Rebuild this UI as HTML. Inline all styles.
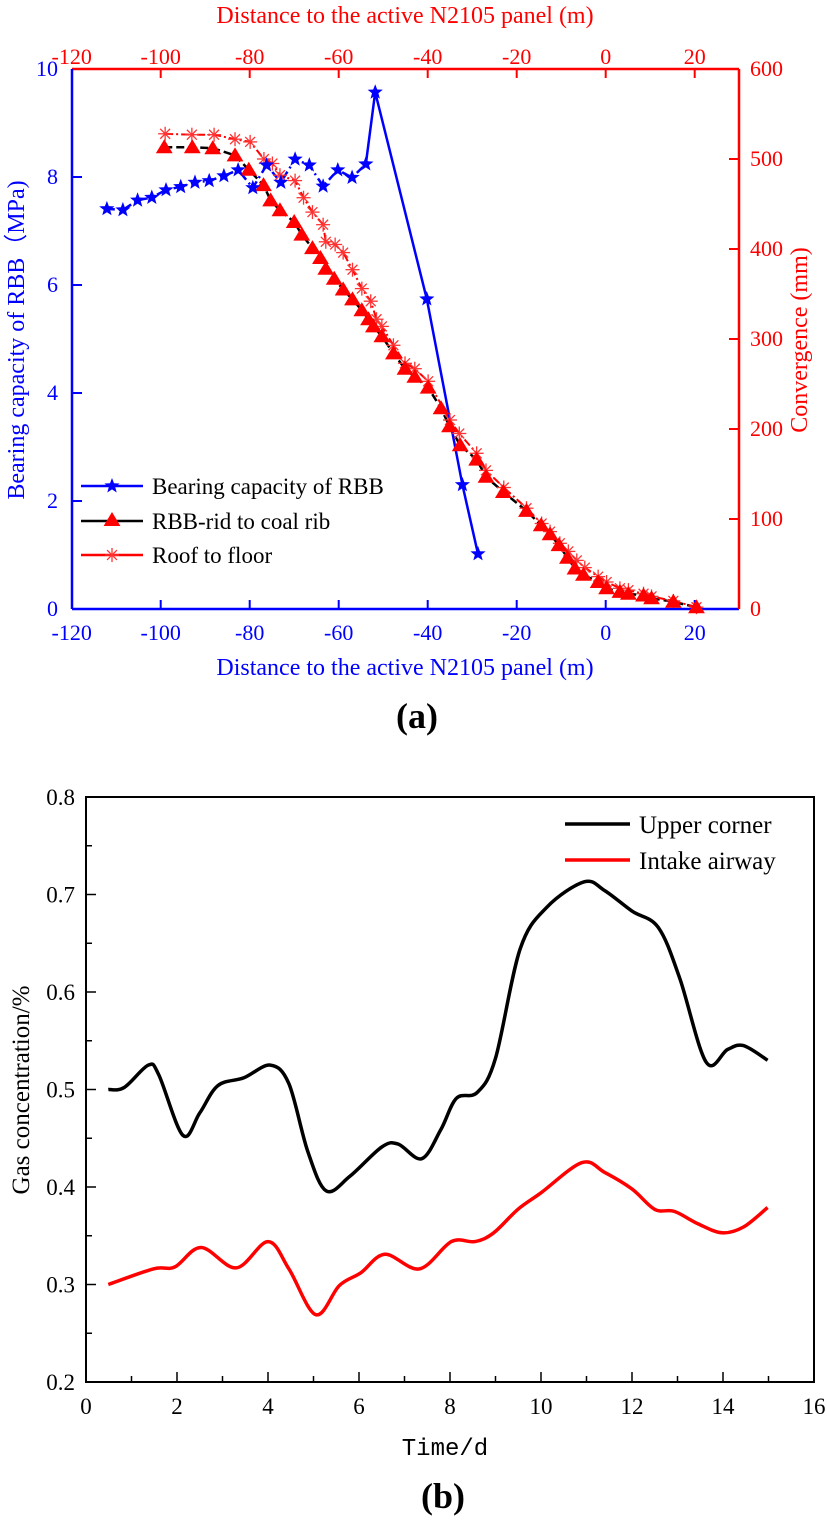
<!DOCTYPE html>
<html><head><meta charset="utf-8"><style>
body{margin:0;background:#fff;}
svg{display:block;font-family:"Liberation Serif",serif;}
</style></head><body>
<svg id="s" width="827" height="1526" viewBox="0 0 827 1526">
<g id="ga"></g>
<g id="gb"></g>
</svg>
<script>
// ---- chart (a) data ----
const rbbX=[-112.1,-108.5,-105.2,-102.0,-98.8,-95.5,-92.3,-89.1,-85.8,-82.6,-79.3,-76.2,-73.0,-69.8,-66.6,-63.5,-60.2,-57.0,-53.9,-51.8,-40.2,-32.2,-28.7];
const rbbY=[7.41,7.39,7.57,7.62,7.76,7.82,7.90,7.93,8.02,8.13,7.80,8.22,7.90,8.33,8.22,7.83,8.13,7.99,8.24,9.57,5.74,2.30,1.02];
const ribX=[-99.2,-92.9,-88.3,-83.3,-80.2,-76.9,-75.3,-73.2,-70.0,-68.3,-65.9,-64.1,-62.9,-61.0,-59.0,-56.9,-54.8,-53.3,-52.2,-50.3,-47.7,-45.1,-42.9,-39.9,-37.0,-35.1,-32.7,-29.0,-26.9,-23.0,-17.8,-14.5,-12.5,-10.5,-8.6,-6.9,-5.0,-1.7,0.2,3.2,5.1,8.5,10.3,15.2,20.4];
const ribY=[513,513,512,504,488,471,454,443,430,416,401,390,378,367,355,344,332,322,314,303,284,267,258,246,223,203,182,166,147,130,109,93,83,71,57,45,38,30,23,19,17,15,12,8,2];
const rfX=[-99.0,-93.0,-88.0,-83.3,-79.9,-76.8,-74.9,-73.2,-69.8,-67.9,-65.9,-63.5,-62.9,-60.8,-59.0,-56.9,-54.8,-52.8,-51.5,-50.3,-47.7,-45.1,-42.9,-39.9,-35.0,-32.9,-29.0,-26.9,-22.9,-17.8,-14.4,-12.5,-10.3,-8.4,-6.5,-4.7,-1.7,0.2,3.2,5.1,8.5,10.3,15.2,20.4];
const rfY=[528,527,527,522,519,500,495,482,476,457,441,427,408,405,396,377,356,342,322,314,293,273,267,253,210,195,173,154,135,112,95,86,73,64,54,46,36,30,23,21,17,14,9,2];
const aXTicks=[-120,-100,-80,-60,-40,-20,0,20];
const aYTicks=[0,2,4,6,8,10];
const aY2Ticks=[0,100,200,300,400,500,600];
// ---- chart (b) data ----
const upX=[0.49,0.84,1.37,1.6,2.13,2.5,2.9,3.47,4.05,4.46,4.87,5.28,5.8,6.5,6.86,7.38,7.8,8.14,8.6,9.0,9.54,10.13,10.95,11.4,12.0,12.58,13.05,13.63,14.1,14.45,14.98];
const upY=[0.500,0.502,0.525,0.515,0.453,0.476,0.504,0.512,0.525,0.506,0.437,0.396,0.411,0.441,0.444,0.429,0.459,0.491,0.497,0.532,0.644,0.687,0.713,0.704,0.683,0.666,0.614,0.528,0.541,0.545,0.530];
const inX=[0.49,1.48,1.95,2.53,3.3,4.0,4.46,5.05,5.57,6.04,6.57,7.33,8.03,8.55,8.96,9.49,10.0,10.9,11.4,12.0,12.5,12.93,13.46,13.98,14.45,14.98];
const inY=[0.300,0.316,0.318,0.338,0.317,0.344,0.316,0.269,0.299,0.312,0.331,0.316,0.344,0.344,0.353,0.377,0.394,0.425,0.415,0.398,0.377,0.375,0.362,0.353,0.359,0.379];
const bXTicks=[0,2,4,6,8,10,12,14,16];
const bYTicks=[0.2,0.3,0.4,0.5,0.6,0.7,0.8];

const NS="http://www.w3.org/2000/svg";
function mk(p,t,a,txt){const e=document.createElementNS(NS,t);for(const k in a)e.setAttribute(k,a[k]);if(txt!==undefined)e.textContent=txt;p.appendChild(e);return e;}

// ===== chart a =====
const ga=document.getElementById('ga');
const aL=72,aR=739,aT=69,aB=609;
const ax=v=>605.7+v*4.45, ay=v=>aB-(v/10)*(aB-aT), ay2=v=>aB-(v/600)*(aB-aT);
let e;
e=mk(ga,'line',{x1:aL,y1:aB,x2:aR,y2:aB,stroke:'#00f','stroke-width':2.5});

e=mk(ga,'line',{x1:aL,y1:aT,x2:aR,y2:aT,stroke:'#f00','stroke-width':2.5});

e=mk(ga,'line',{x1:aL,y1:aT,x2:aL,y2:aB,stroke:'#00f','stroke-width':2.5});

e=mk(ga,'line',{x1:aR,y1:aT,x2:aR,y2:aB,stroke:'#f00','stroke-width':2.5});

aXTicks.forEach(v=>{const x=ax(v);
 if(v>-120){mk(ga,'line',{x1:x,y1:aB,x2:x,y2:aB-9,stroke:'#00f','stroke-width':2});mk(ga,'line',{x1:x,y1:aT,x2:x,y2:aT+9,stroke:'#f00','stroke-width':2});}
 e=mk(ga,'text',{x:x,y:640,'text-anchor':'middle','font-size':22,fill:'#00f'},String(v));
 
 e=mk(ga,'text',{x:x,y:64,'text-anchor':'middle','font-size':22,fill:'#f00'},String(v));
 });
aYTicks.forEach(v=>{const y=ay(v);
 if(v>0&&v<10)mk(ga,'line',{x1:aL,y1:y,x2:aL+10,y2:y,stroke:'#00f','stroke-width':2});
 e=mk(ga,'text',{x:58,y:y+7,'text-anchor':'end','font-size':22,fill:'#00f'},String(v));
 });
aY2Ticks.forEach(v=>{const y=ay2(v);
 if(v>0&&v<600)mk(ga,'line',{x1:aR,y1:y,x2:aR-10,y2:y,stroke:'#f00','stroke-width':2});
 e=mk(ga,'text',{x:750,y:y+7,'text-anchor':'start','font-size':22,fill:'#f00'},String(v));
 });
e=mk(ga,'text',{x:405,y:675,'text-anchor':'middle','font-size':24,fill:'#00f'},'Distance to the active N2105 panel (m)');

e=mk(ga,'text',{x:405,y:23,'text-anchor':'middle','font-size':24,fill:'#f00'},'Distance to the active N2105 panel (m)');

e=mk(ga,'text',{x:0,y:0,'text-anchor':'middle','font-size':24,fill:'#00f',transform:'translate(24,340) rotate(-90)'},'Bearing capacity of RBB（MPa)');

e=mk(ga,'text',{x:0,y:0,'text-anchor':'middle','font-size':24,fill:'#f00',transform:'translate(807,340) rotate(-90)'},'Convergence (mm)');


function star(g,cx,cy,r,fill){let p=[];for(let i=0;i<10;i++){const a=-Math.PI/2+i*Math.PI/5;const rr=i%2?r*0.42:r;p.push((cx+rr*Math.cos(a)).toFixed(1)+','+(cy+rr*Math.sin(a)).toFixed(1));}return mk(g,'polygon',{points:p.join(' '),fill:fill});}
function tri(g,cx,cy,r){return mk(g,'polygon',{points:`${cx},${cy-r} ${cx-r*1.05},${cy+r*0.75} ${cx+r*1.05},${cy+r*0.75}`,fill:'#f00'});}
function aster(g,cx,cy,r){const gg=mk(g,'g',{stroke:'#f33','stroke-width':1.3});for(let i=0;i<4;i++){const a=i*Math.PI/4;mk(gg,'line',{x1:cx-r*Math.cos(a),y1:cy-r*Math.sin(a),x2:cx+r*Math.cos(a),y2:cy+r*Math.sin(a)});}return gg;}

e=mk(ga,'polyline',{points:ribX.map((v,i)=>ax(v)+','+ay2(ribY[i])).join(' '),fill:'none',stroke:'#000','stroke-width':2.5,'stroke-dasharray':'8,4'});

e=mk(ga,'polyline',{points:rfX.map((v,i)=>ax(v)+','+ay2(rfY[i])).join(' '),fill:'none',stroke:'#f00','stroke-width':2,'stroke-dasharray':'8,3,2,3'});

e=mk(ga,'polyline',{points:rbbX.slice(0,19).map((v,i)=>ax(v)+','+ay(rbbY[i])).join(' '),fill:'none',stroke:'#00f','stroke-width':2.5,'stroke-dasharray':'8,4,2,4'});

e=mk(ga,'polyline',{points:rbbX.slice(18).map((v,i)=>ax(v)+','+ay(rbbY[i+18])).join(' '),fill:'none',stroke:'#00f','stroke-width':2.5});

rfX.forEach((v,i)=>{e=aster(ga,ax(v),ay2(rfY[i]),7);
 });
ribX.forEach((v,i)=>{e=tri(ga,ax(v),ay2(ribY[i]),8);
 });
rbbX.forEach((v,i)=>{e=star(ga,ax(v),ay(rbbY[i]),8,'#00f');
 });
const lg=mk(ga,'g',{});

[['Bearing capacity of RBB','#00f','#00f','s',486],['RBB-rid to coal rib','#000','#f00','t',521],['Roof to floor','#f00','#f00','a',555]].forEach(r=>{
 mk(lg,'line',{x1:81,y1:r[4],x2:143,y2:r[4],stroke:r[1],'stroke-width':2.5});
 if(r[3]==='s')star(lg,112,r[4],8,'#00f');else if(r[3]==='t')tri(lg,112,r[4]-1,8);else aster(lg,112,r[4],7);
 e=mk(lg,'text',{x:152,y:r[4]+8,'font-size':23,fill:'#000'},r[0]);
 });
e=mk(ga,'text',{x:417,y:728,'text-anchor':'middle','font-size':36,'font-weight':'bold'},'(a)');


// ===== chart b =====
const gb=document.getElementById('gb');
const bL=86,bR=814,bT=797,bB=1382;
const bx=v=>bL+v*(bR-bL)/16, by=v=>bB-(v-0.2)/0.6*(bB-bT);
e=mk(gb,'rect',{x:bL,y:bT,width:bR-bL,height:bB-bT,fill:'none',stroke:'#000','stroke-width':2});

for(let v=0;v<=16;v++){const x=bx(v);if(v>0&&v<16)mk(gb,'line',{x1:x,y1:bB,x2:x,y2:bB-(v%2?6:10),stroke:'#000','stroke-width':1.5});}
bXTicks.forEach(v=>{e=mk(gb,'text',{x:bx(v),y:1414,'text-anchor':'middle','font-size':23},String(v));
 });
for(let i=0;i<=12;i++){const v=0.2+i*0.05,y=by(v);if(i>0&&i<12)mk(gb,'line',{x1:bL,y1:y,x2:bL+(i%2?6:10),y2:y,stroke:'#000','stroke-width':1.5});}
bYTicks.forEach(v=>{e=mk(gb,'text',{x:75,y:by(v)+8,'text-anchor':'end','font-size':23},v.toFixed(1));
 });
e=mk(gb,'text',{x:445,y:1455,'text-anchor':'middle','font-size':24,'font-family':'Liberation Mono, monospace'},'Time/d');

e=mk(gb,'text',{x:0,y:0,'text-anchor':'middle','font-size':25,transform:'translate(29,1090) rotate(-90)'},'Gas concentration/%');

function smooth(xs,ys){const P=xs.map((v,i)=>[bx(v),by(ys[i])]);let d='M'+P[0][0]+','+P[0][1];
 for(let i=0;i<P.length-1;i++){const p0=P[i-1]||P[i],p1=P[i],p2=P[i+1],p3=P[i+2]||p2;
  const c1=[p1[0]+(p2[0]-p0[0])/6,p1[1]+(p2[1]-p0[1])/6],c2=[p2[0]-(p3[0]-p1[0])/6,p2[1]-(p3[1]-p1[1])/6];
  d+=` C${c1[0].toFixed(1)},${c1[1].toFixed(1)} ${c2[0].toFixed(1)},${c2[1].toFixed(1)} ${p2[0].toFixed(1)},${p2[1].toFixed(1)}`;}return d;}
e=mk(gb,'path',{d:smooth(upX,upY),fill:'none',stroke:'#000','stroke-width':3.5});

e=mk(gb,'path',{d:smooth(inX,inY),fill:'none',stroke:'#f00','stroke-width':3.5});

const lb=mk(gb,'g',{});

[['Upper corner','#000',824],['Intake airway','#f00',860]].forEach(r=>{
 mk(lb,'line',{x1:565,y1:r[2],x2:630,y2:r[2],stroke:r[1],'stroke-width':3.5});
 e=mk(lb,'text',{x:639,y:r[2]+9,'font-size':25},r[0]);
 });
e=mk(gb,'text',{x:443,y:1508,'text-anchor':'middle','font-size':36,'font-weight':'bold'},'(b)');

</script>
</body></html>
